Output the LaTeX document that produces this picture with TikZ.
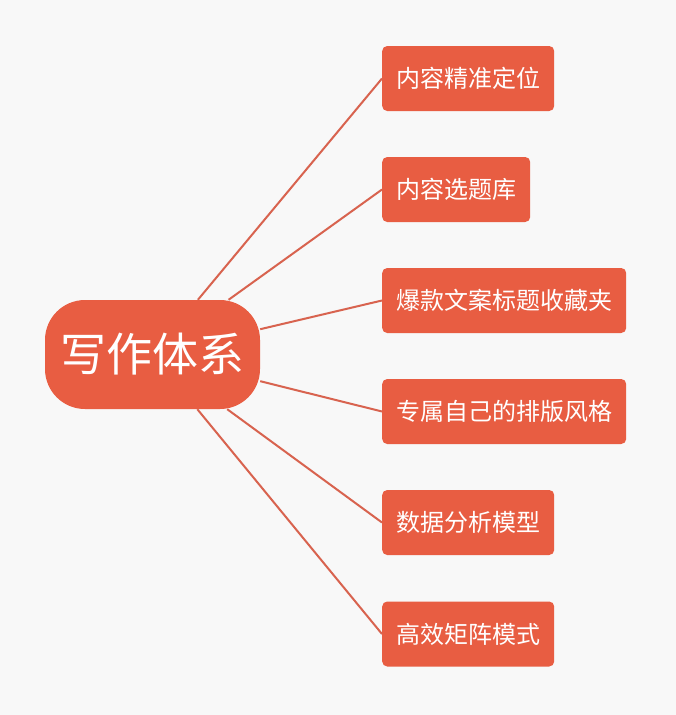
\documentclass[tikz,border=0pt]{standalone}
\usepackage{fontspec}
\newfontfamily\cjk{Noto Sans CJK SC}
\definecolor{boxred}{HTML}{E85D42}
\definecolor{linered}{HTML}{D8634F}
\definecolor{bg}{HTML}{F8F8F8}
\begin{document}
\begin{tikzpicture}[x=1pt,y=-1pt,
  leaf/.style={fill=boxred,rounded corners=5pt,text=white,font=\cjk\fontsize{24}{28}\selectfont,
    minimum height=65pt,inner xsep=14pt,inner ysep=0pt,anchor=west},
  hub/.style={fill=boxred,rounded corners=40pt,text=white,font=\cjk\fontsize{46}{50}\selectfont,
    minimum height=109pt,minimum width=215pt,inner sep=0pt},
  link/.style={draw=linered,line width=2pt}]
\fill[bg] (0,0) rectangle (676,715);
\useasboundingbox (0,0) rectangle (676,715);
\node[hub] (c) at (152.5,354.5) {写作体系};
\node[leaf] (b1) at (382,78.5) {内容精准定位};
\node[leaf] (b2) at (382,189.5) {内容选题库};
\node[leaf] (b3) at (382,300.5) {爆款文案标题收藏夹};
\node[leaf] (b4) at (382,411.5) {专属自己的排版风格};
\node[leaf] (b5) at (382,522.5) {数据分析模型};
\node[leaf] (b6) at (382,634) {高效矩阵模式};
\foreach \b in {b1,b2,b3,b4,b5,b6}{
  \draw[link] (c) -- (\b.west);
}
\end{tikzpicture}
\end{document}
